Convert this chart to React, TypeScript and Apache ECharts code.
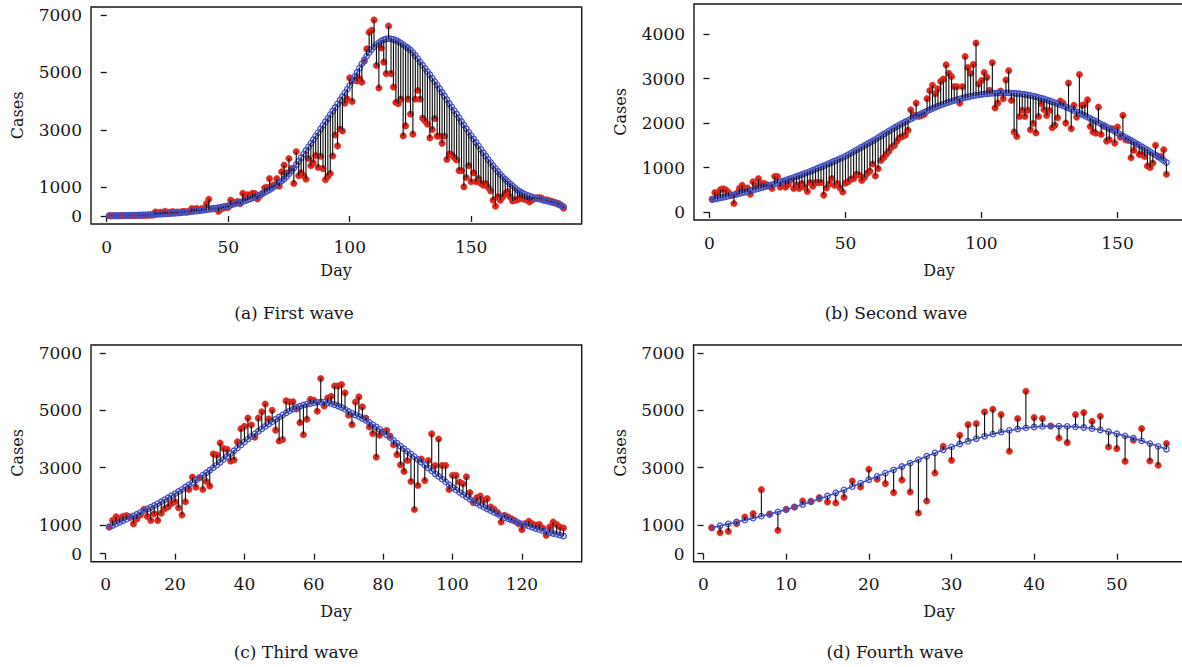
import React, { useEffect, useRef } from "react";
import * as echarts from "echarts";

// ---------- data ----------
const obsA = [
  2, 3, 5, 4, 6, 8, 7, 10, 12, 11,
  14, 15, 18, 17, 20, 22, 25, 28, 30, 140,
  110, 130, 120, 160, 130, 120, 150, 130, 140, 120,
  150, 160, 130, 170, 260, 230, 260, 210, 260, 230,
  420, 580, 250, 270, 260, 160, 240, 280, 300, 300,
  550, 430, 480, 500, 430, 790, 620, 740, 690, 790,
  780, 590, 700, 780, 980, 1000, 1300, 1050, 1090, 1300,
  1040, 1540, 1770, 1500, 2000, 1650, 1130, 2240, 1400, 1500,
  1400, 1280, 2000, 1750, 1850, 2100, 1690, 2080, 1650, 1260,
  1380, 1480, 2090, 2820, 2440, 3020, 2960, 3930, 4070, 4810,
  3990, 4750, 4700, 4780, 4660, 5390, 5820, 6400, 6470, 6830,
  5240, 4460, 5850, 5360, 4960, 6620, 4960, 4490, 3955, 3910,
  4070, 2790, 3140, 4070, 3550, 2850, 4070, 4370, 4070, 3410,
  3310, 3200, 2720, 3010, 3390, 2780, 2780, 2530, 2780, 1970,
  2160, 2130, 2040, 1950, 1580, 1580, 1015, 1340, 1750, 1190,
  1500, 1190, 1300, 1130, 1070, 1130, 990, 870, 550, 340,
  665, 550, 665, 780, 840, 665, 525, 550, 560, 630,
  600, 580, 560, 490, 560, 600, 630, 640, 620, 550,
  560, 540, 515, 480, 455, 430, 375, 270,
];
const fitA = [
  10, 11, 12, 13, 14, 16, 17, 19, 21, 23,
  25, 27, 30, 32, 35, 38, 41, 45, 49, 53,
  57, 62, 67, 72, 77, 83, 89, 96, 103, 110,
  118, 125, 133, 141, 150, 159, 169, 179, 190, 202,
  215, 228, 242, 257, 272, 288, 305, 323, 342, 362,
  383, 405, 428, 452, 477, 503, 531, 560, 591, 624,
  659, 696, 735, 776, 820, 866, 915, 967, 1022, 1080,
  1145, 1215, 1290, 1375, 1465, 1565, 1670, 1785, 1905, 2030,
  2155, 2280, 2405, 2530, 2655, 2780, 2905, 3030, 3155, 3280,
  3405, 3530, 3655, 3780, 3905, 4030, 4160, 4290, 4420, 4550,
  4700, 4850, 5000, 5150, 5300, 5440, 5570, 5690, 5800, 5890,
  5970, 6040, 6100, 6140, 6165, 6175, 6170, 6150, 6120, 6080,
  6030, 5970, 5910, 5850, 5780, 5690, 5590, 5480, 5370, 5250,
  5140, 5030, 4920, 4800, 4680, 4560, 4430, 4310, 4180, 4050,
  3920, 3800, 3670, 3550, 3420, 3290, 3170, 3040, 2920, 2800,
  2680, 2560, 2440, 2320, 2200, 2090, 1970, 1860, 1750, 1650,
  1550, 1450, 1360, 1280, 1200, 1120, 1050, 980, 910, 850,
  800, 760, 720, 690, 660, 640, 610, 590, 570, 545,
  525, 500, 480, 455, 430, 400, 360, 320,
];

const obsB = [
  290, 440, 420, 500, 520, 500, 440, 380, 190, 420,
  530, 600, 520, 540, 400, 680, 600, 750, 640, 640,
  620, 580, 530, 800, 800, 560, 680, 560, 620, 720,
  530, 610, 530, 640, 560, 460, 660, 580, 660, 660,
  660, 380, 540, 630, 750, 600, 640, 540, 450, 650,
  680, 740, 750, 850, 830, 710, 780, 870, 920, 1080,
  810, 975, 1160, 1220, 1300, 1370, 1460, 1500, 1600, 1670,
  1700, 1730, 1840, 2300, 2180, 2450, 2150, 2170, 2200, 2550,
  2730, 2850, 2660, 2770, 2940, 2990, 3310, 3120, 3050, 2820,
  2820, 2450, 2820, 3500, 3250, 3120, 3320, 3800, 2880, 2960,
  3140, 3030, 2740, 3360, 2340, 2450, 2720, 2550, 2970, 3180,
  2510, 1800, 1700, 2150, 2290, 2150, 2290, 1850, 1990, 1780,
  2150, 2435, 2300, 2170, 2285, 1895, 1950, 2120, 2495, 2450,
  2000, 2900, 1875, 2400, 2135, 3095, 2400, 2420, 2525, 1925,
  1800, 1775, 2360, 1745, 1925, 1595, 1625, 1875, 1550, 1910,
  1685, 2175, 1625, 1610, 1220, 1385, 1520, 1295, 1295, 1250,
  1035, 1000, 1100, 1500, 1250, 1250, 1400, 850,
];
const fitB = [
  280, 292, 305, 318, 331, 344, 358, 372, 386, 400,
  415, 430, 445, 461, 477, 493, 510, 527, 544, 562,
  580, 598, 617, 636, 655, 675, 695, 715, 736, 757,
  778, 800, 822, 845, 868, 891, 915, 939, 964, 989,
  1014, 1040, 1066, 1092, 1119, 1146, 1173, 1201, 1229, 1257,
  1291, 1325, 1359, 1393, 1427, 1461, 1495, 1529, 1563, 1597,
  1635, 1673, 1711, 1749, 1787, 1824, 1860, 1895, 1930, 1965,
  1998, 2030, 2062, 2094, 2125, 2156, 2186, 2216, 2245, 2274,
  2302, 2329, 2355, 2380, 2404, 2427, 2449, 2470, 2490, 2509,
  2527, 2544, 2560, 2575, 2589, 2602, 2614, 2625, 2635, 2644,
  2652, 2659, 2665, 2670, 2674, 2677, 2679, 2680, 2680, 2679,
  2676, 2672, 2667, 2660, 2652, 2643, 2632, 2620, 2607, 2593,
  2577, 2560, 2542, 2523, 2503, 2482, 2460, 2437, 2413, 2388,
  2362, 2336, 2309, 2281, 2253, 2224, 2195, 2165, 2135, 2104,
  2073, 2042, 2010, 1978, 1946, 1913, 1880, 1847, 1814, 1780,
  1746, 1712, 1678, 1644, 1609, 1574, 1539, 1504, 1468, 1432,
  1395, 1357, 1319, 1281, 1242, 1202, 1160, 1115,
];

const obsC = [
  930, 1160, 1290, 1230, 1300, 1330, 1290, 1040, 1210, 1350,
  1550, 1300, 1160, 1390, 1160, 1410, 1570, 1630, 1750, 1810,
  1600, 1350, 1810, 2240, 2670, 2320, 2640, 2240, 2520, 2360,
  3480, 3440, 3860, 3670, 3640, 3230, 3270, 3900, 4360, 4440,
  4730, 4490, 4060, 4730, 4950, 5220, 4700, 5000, 4310, 3930,
  3980, 5330, 5290, 5300, 5050, 4570, 4150, 4690, 5385, 5350,
  4970, 6110, 5150, 5430, 5490, 5850, 5850, 5900, 5610, 4830,
  4500, 5290, 5470, 5120, 4730, 4420, 4190, 3370, 4130, 4245,
  4300, 4100, 3800, 3455, 3100, 2870, 3250, 2520, 1540, 2380,
  3300, 2550, 3250, 4180, 3075, 4000, 3075, 3075, 2240, 2730,
  2730, 2500, 2440, 2680, 2130, 1780, 1950, 2010, 1860, 1920,
  1630, 1550, 1430, 1105, 1340, 1280, 1220, 1150, 1045, 835,
  1050, 1130, 1045, 990, 1020, 895, 640, 930, 1105, 1020,
  930, 895,
];
const fitC = [
  930, 985, 1040, 1095, 1150, 1205, 1260, 1315, 1375, 1440,
  1500, 1560, 1620, 1680, 1745, 1810, 1880, 1950, 2020, 2095,
  2170, 2245, 2325, 2405, 2485, 2570, 2655, 2740, 2825, 2910,
  3000, 3090, 3190, 3290, 3390, 3490, 3590, 3690, 3795, 3900,
  3995, 4090, 4180, 4270, 4355, 4440, 4520, 4600, 4690, 4770,
  4840, 4910, 4980, 5040, 5100, 5145, 5185, 5215, 5240, 5260,
  5280, 5290, 5285, 5265, 5235, 5195, 5150, 5100, 5035, 4960,
  4900, 4840, 4780, 4715, 4650, 4575, 4500, 4420, 4335, 4250,
  4150, 4050, 3950, 3850, 3750, 3660, 3570, 3480, 3385, 3290,
  3190, 3090, 2990, 2890, 2790, 2695, 2600, 2505, 2405, 2310,
  2225, 2140, 2060, 1980, 1900, 1830, 1760, 1690, 1625, 1560,
  1500, 1440, 1380, 1320, 1260, 1215, 1170, 1125, 1080, 1040,
  1000, 960, 920, 880, 840, 805, 770, 740, 705, 675,
  645, 615,
];

const obsD = [
  900, 733, 779, 1047, 1280, 1396, 2234, 1370, 814, 1550,
  1629, 1838, 1827, 1955, 1803, 1768, 1966, 2536, 2327, 2944,
  2595, 2444, 2130, 2570, 2153, 1420, 1838, 2816, 3747, 3257,
  4130, 4502, 4537, 4945, 5038, 4852, 3572, 4712, 5665, 4747,
  4712, 4456, 4037, 3874, 4852, 4922, 4619, 4794, 3723, 3665,
  3222, 3956, 4363, 3234, 3083, 3840,
];
const fitD = [
  907, 975, 1040, 1105, 1170, 1240, 1310, 1385, 1460, 1536,
  1625, 1715, 1810, 1910, 2010, 2115, 2225, 2340, 2460, 2580,
  2695, 2810, 2925, 3040, 3160, 3280, 3400, 3515, 3625, 3725,
  3825, 3920, 4010, 4095, 4170, 4240, 4300, 4350, 4390, 4420,
  4440, 4450, 4450, 4440, 4425, 4400, 4365, 4315, 4255, 4185,
  4110, 4025, 3935, 3840, 3745, 3645,
];

const yTicks7000 = [0, 1000, 3000, 5000, 7000];
const yTicks4000 = [0, 1000, 2000, 3000, 4000];
const xTicksAB = [0, 50, 100, 150];
const xTicksC = [0, 20, 40, 60, 80, 100, 120];
const xTicksD = [0, 10, 20, 30, 40, 50];
const captions = ["(a) First wave", "(b) Second wave", "(c) Third wave", "(d) Fourth wave"];
const xTitle = "Day";
const yTitle = "Cases";

// ---------- styling ----------
const FONT = "DejaVu Serif";
const INK = "#161616";
const RED = "#e3281d";
const BLUE = "#4350c2";

const panels = [
  { obs: obsA, fit: fitA, box: { left: 91, top: 7, width: 490.7, height: 217 }, x: [-6.48, 195.48], y: [-280, 7280], xt: xTicksAB, yt: yTicks7000 },
  { obs: obsB, fit: fitB, box: { left: 694, top: 4, width: 490.6, height: 216 }, x: [-5.68, 174.68], y: [-180, 4680], xt: xTicksAB, yt: yTicks4000 },
  { obs: obsC, fit: fitC, box: { left: 91, top: 345, width: 490.7, height: 216.7 }, x: [-4.24, 137.24], y: [-280, 7280], xt: xTicksC, yt: yTicks7000 },
  { obs: obsD, fit: fitD, box: { left: 693.6, top: 345, width: 491, height: 216.7 }, x: [-1.2, 58.2], y: [-280, 7280], xt: xTicksD, yt: yTicks7000 },
];

const textPos = [
  { ylab: [17, 115.5], xlab: [336, 270], cap: [294, 313] },
  { ylab: [620, 112], xlab: [939, 270], cap: [896, 313] },
  { ylab: [17, 453], xlab: [336, 611], cap: [296, 652] },
  { ylab: [620, 453], xlab: [939, 611], cap: [895, 652] },
];

function buildOption() {
  const grid: any[] = [];
  const xAxis: any[] = [];
  const yAxis: any[] = [];
  const series: any[] = [];
  const graphic: any[] = [];

  panels.forEach((p, i) => {
    grid.push({
      ...p.box,
      show: true,
      borderColor: INK,
      borderWidth: 1.4,
      backgroundColor: "transparent",
      containLabel: false,
      outerBoundsMode: "none",
    });
    const labelStyle = { fontFamily: FONT, fontSize: 17, color: INK, formatter: (v: number) => String(v) };
    xAxis.push({
      type: "value",
      gridIndex: i,
      min: p.x[0],
      max: p.x[1],
      axisLine: { show: false },
      splitLine: { show: false },
      axisTick: { show: true, inside: false, length: 6, customValues: p.xt, lineStyle: { color: INK, width: 1.3 } },
      axisLabel: { customValues: p.xt, margin: 14, hideOverlap: false, ...labelStyle },
    });
    yAxis.push({
      type: "value",
      gridIndex: i,
      min: p.y[0],
      max: p.y[1],
      axisLine: { show: false },
      splitLine: { show: false },
      axisTick: { show: true, inside: false, length: 6, customValues: p.yt, lineStyle: { color: INK, width: 1.3 } },
      axisLabel: { customValues: p.yt, margin: 9, hideOverlap: false, ...labelStyle },
    });

    const obsPts = p.obs.map((v, k) => [k + 1, v]);
    const fitPts = p.fit.map((v, k) => [k + 1, v]);
    const segs = p.obs.map((v, k) => [k + 1, v, p.fit[k]]);

    series.push({
      type: "scatter",
      xAxisIndex: i,
      yAxisIndex: i,
      data: obsPts,
      symbol: "circle",
      symbolSize: 6.5,
      silent: true,
      itemStyle: { color: RED, borderColor: "#c01e14", borderWidth: 0.4, opacity: 1 },
      z: 2,
    });
    series.push({
      type: "line",
      xAxisIndex: i,
      yAxisIndex: i,
      data: fitPts,
      symbol: "circle",
      symbolSize: 5.5,
      showSymbol: true,
      silent: true,
      lineStyle: { color: BLUE, width: 1.6 },
      itemStyle: { color: "rgba(255,255,255,0)", borderColor: BLUE, borderWidth: 1.3 },
      z: 3,
    });
    series.push({
      type: "custom",
      xAxisIndex: i,
      yAxisIndex: i,
      data: segs,
      silent: true,
      encode: { x: 0, y: [1, 2] },
      renderItem: (params: any, api: any) => {
        const a = api.coord([api.value(0), api.value(1)]);
        const b = api.coord([api.value(0), api.value(2)]);
        return {
          type: "line",
          shape: { x1: a[0], y1: a[1], x2: b[0], y2: b[1] },
          style: { stroke: "#0a0a0a", lineWidth: 1.1 },
        };
      },
      z: 4,
    });

    const t = textPos[i];
    const ts = { fontFamily: FONT, fill: INK, align: "center", verticalAlign: "middle" };
    graphic.push({ type: "text", x: t.ylab[0], y: t.ylab[1], rotation: Math.PI / 2, style: { text: yTitle, fontSize: 16, ...ts } });
    graphic.push({ type: "text", x: t.xlab[0], y: t.xlab[1], style: { text: xTitle, fontSize: 16, ...ts } });
    graphic.push({ type: "text", x: t.cap[0], y: t.cap[1], style: { text: captions[i], fontSize: 17, ...ts } });
  });

  return {
    animation: false,
    backgroundColor: "#ffffff",
    grid,
    xAxis,
    yAxis,
    series,
    graphic,
  };
}

export default function App() {
  const ref = useRef<HTMLDivElement>(null);
  useEffect(() => {
    if (!ref.current) return;
    const chart = echarts.init(ref.current, null, { renderer: "svg" });
    chart.setOption(buildOption() as any);
    return () => chart.dispose();
  }, []);
  return (
    <div
      ref={ref}
      style={{ position: "fixed", left: 0, top: 0, width: 1182, height: 667, background: "#fff" }}
    />
  );
}
